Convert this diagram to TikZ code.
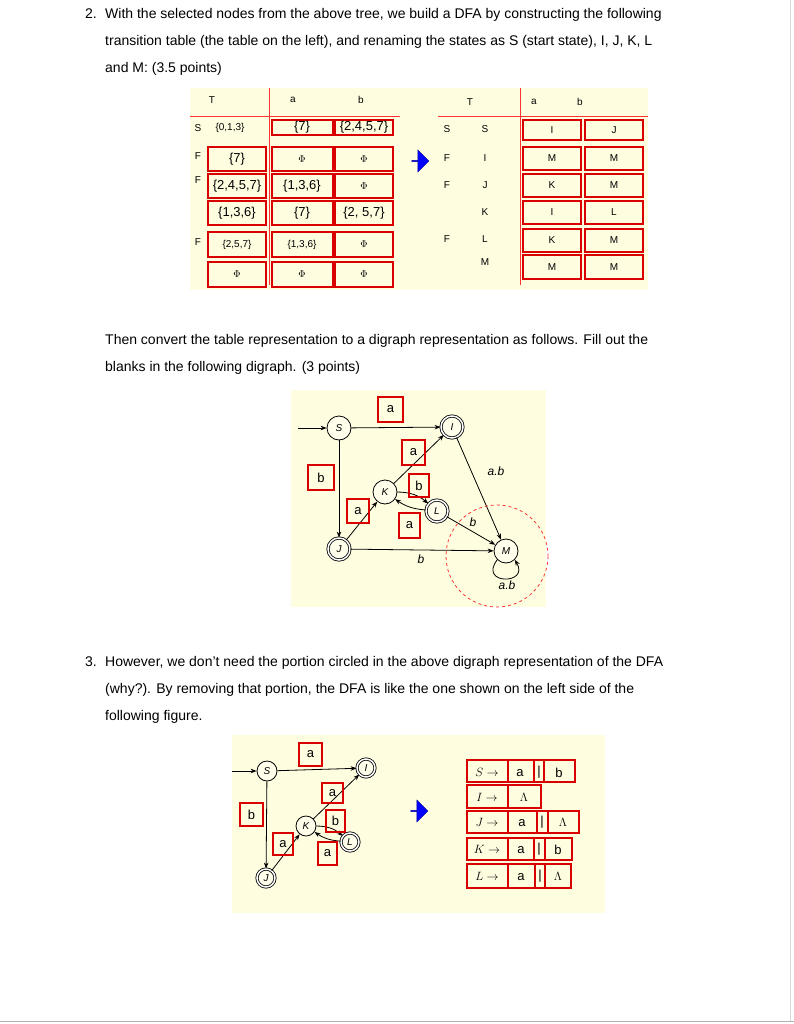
\documentclass[tikz,border=0pt]{standalone}
\usepackage{fontspec}
\setmainfont{Liberation Sans}
\usetikzlibrary{arrows.meta,shapes.arrows}
\newcommand{\smphi}{{\fontsize{10}{10}\selectfont$\Phi$}}
\begin{document}
\begin{tikzpicture}[x=1pt,y=-1pt,
 txt/.style={anchor=base west,inner sep=0,font=\fontsize{14}{16}\selectfont},
 rb/.style={draw=red!85!black,line width=1.6pt},
 st/.style={circle,draw,thick,minimum size=#1,inner sep=0,font=\itshape\fontsize{10}{10}\selectfont,fill=yellow!8},
 fin/.style={st=#1,double,double distance=1.5pt},
 ed/.style={-{Stealth[length=6pt]},thick},
 lb/.style={font=\fontsize{13}{13}\selectfont,inner sep=0},
 sm/.style={font=\fontsize{10}{10}\selectfont,inner sep=0},
 bl/.style={single arrow,fill=blue,draw=blue!60!black,minimum height=17pt,minimum width=22pt,single arrow head extend=3pt,inner sep=0}]
\useasboundingbox (0,0) rectangle (794,1024);
\fill[white] (0,0) rectangle (794,1024);
\draw[gray!60,line width=1pt] (0,1021)--(794,1021);
\draw[gray!30] (790,0)--(790,1021);
% text
\node[txt] (n2) at (85,19) {2.};
\node[txt] (l1) at (105,19) {With the selected nodes from the above tree, we build a DFA by constructing the following};
\node[txt] (l2) at (105,46) {transition table (the table on the left), and renaming the states as S (start state), I, J, K, L};
\node[txt] (l3) at (105,73) {and M: (3.5 points)};
\node[txt] (l4) at (105,344) {Then convert the table representation to a digraph representation as follows. Fill out the};
\node[txt] (l5) at (105,371) {blanks in the following digraph. (3 points)};
\node[txt] (n3) at (85,666) {3.};
\node[txt] (l6) at (105,666) {However, we don't need the portion circled in the above digraph representation of the DFA};
\node[txt] (l7) at (105,693) {(why?). By removing that portion, the DFA is like the one shown on the left side of the};
\node[txt] (l8) at (105,720) {following figure.};
% table background
\fill[yellow!12] (190,88) rectangle (648,290);
\draw[red!80,thick] (190,116)--(400,116) (269,88)--(269,285) (438,116)--(648,116) (520,88)--(520,285);
\node[sm] (tT) at (212,100) {T}; \node[sm] (ta) at (293,100) {a}; \node[sm] (tb) at (361,100) {b};
\node[sm] (uT) at (470,102) {T}; \node[sm] (ua) at (534,102) {a}; \node[sm] (ub) at (580,102) {b};
\foreach \y/\lx in {128/S,156/F,180/F,242/F}{\node[sm] at (198,\y) {\lx};}
\node[sm] (s013) at (230,128) {\{0,1,3\}};
% left table boxes
\foreach \ya/\yb/\tx in {147/171/{\{7\}},174/198/{\{2,4,5,7\}},201/225/{\{1,3,6\}},232/257/{\fontsize{10}{10}\selectfont\{2,5,7\}},262/287/{\smphi}}
 {\draw[rb] (208,\ya) rectangle (266,\yb); \node[lb] at (237,{(\ya+\yb)/2}) {\tx};}
\foreach \ya/\yb/\tx/\ux in {120/135/{\{7\}}/{\{2,4,5,7\}},147/171/{\smphi}/{\smphi},174/198/{\{1,3,6\}}/{\smphi},201/225/{\{7\}}/{\{2, 5,7\}},232/257/{\fontsize{10}{10}\selectfont\{1,3,6\}}/{\smphi},262/287/{\smphi}/{\smphi}}
 {\draw[rb] (272,\ya) rectangle (333,\yb); \node[lb] at (302,{(\ya+\yb)/2}) {\tx};
  \draw[rb] (335,\ya) rectangle (393,\yb); \node[lb] at (364,{(\ya+\yb)/2}) {\ux};}
\node[bl] (arr1) at (420,161) {};
% right table
\foreach \y/\lx in {129/S,158/F,185/F,239/F}{\node[sm] at (447,\y) {\lx};}
\foreach \y/\lx in {129/S,158/I,185/J,212/K,239/L,262/M}{\node[sm] at (485,\y) {\lx};}
\foreach \ya/\yb/\tx/\ux in {120/140/I/J,147/170/M/M,174/197/K/M,201/224/I/L,229/252/K/M,255/279/M/M}
 {\draw[rb] (523,\ya) rectangle (581,\yb); \node[sm] at (552,{(\ya+\yb)/2}) {\tx};
  \draw[rb] (585,\ya) rectangle (643,\yb); \node[sm] at (614,{(\ya+\yb)/2}) {\ux};}
% digraph 1
\fill[yellow!12] (291,390) rectangle (546,607);
\node[st=24pt] (S) at (339,428) {S};
\node[fin=22pt] (I) at (452,427) {I};
\node[st=24pt] (K) at (385,492) {K};
\node[fin=22pt] (L) at (437,511) {L};
\node[fin=22pt] (J) at (339,549) {J};
\node[st=24pt] (M) at (506,551) {M};
\coordinate (in1) at (298,428);
\draw[ed] (in1)--(S);
\draw[ed] (S)--(I); \draw[ed] (S)--(J); \draw[ed] (J)--(K); \draw[ed] (K)--(I);
\draw[ed] (K) to[bend left=20] (L); \draw[ed] (L) to[bend left=15] (K);
\draw[ed] (L)--(M); \draw[ed] (J)--(M); \draw[ed] (I)--(M);
\draw[ed] (M.south west) .. controls (478,585) and (530,585) .. (M.south east);
\draw[red!80,dashed,thick] (497,556) circle (51);
\foreach \xa/\ya/\xb/\yb/\tx in {378/397/403/422/a,402/440/425/465/a,308/465/334/490/b,409/474/429/497/b,347/499/369/523/a,399/513/420/538/a}
 {\draw[rb] (\xa,\ya) rectangle (\xb,\yb); \node[lb] at ({(\xa+\xb)/2},{(\ya+\yb)/2}) {\tx};}
\node[lb,font=\itshape\fontsize{12}{12}\selectfont] (ab1) at (496,471) {a.b};
\node[lb,font=\itshape\fontsize{12}{12}\selectfont] (b1) at (473,522) {b};
\node[lb,font=\itshape\fontsize{12}{12}\selectfont] (b2) at (421,559) {b};
\node[lb,font=\itshape\fontsize{12}{12}\selectfont] (ab2) at (507,585) {a.b};
% digraph 2
\fill[yellow!12] (232,735) rectangle (605,913);
\node[st=20pt] (S2) at (267,771) {S};
\node[fin=18pt] (I2) at (366,768) {I};
\node[st=20pt] (K2) at (306,826) {K};
\node[fin=18pt] (L2) at (350,842) {L};
\node[fin=18pt] (J2) at (266,878) {J};
\coordinate (in2) at (232,771);
\draw[ed] (in2)--(S2);
\draw[ed] (S2)--(I2); \draw[ed] (S2)--(J2); \draw[ed] (J2)--(K2); \draw[ed] (K2)--(I2);
\draw[ed] (K2) to[bend left=20] (L2); \draw[ed] (L2) to[bend left=15] (K2);
\foreach \xa/\ya/\xb/\yb/\tx in {299/743/322/766/a,240/803/263/826/b,322/783/343/803/a,326/810/345/832/b,273/833/293/855/a,318/842/337/865/a}
 {\draw[rb] (\xa,\ya) rectangle (\xb,\yb); \node[lb] at ({(\xa+\xb)/2},{(\ya+\yb)/2}) {\tx};}
\node[bl] (arr2) at (419,811) {};
% grammar
\foreach \ya/\yb/\xs in {760/782/{467,508,534,544,575},785/808/{467,508,541},811/833/{467,508,537,548,579},838/860/{467,508,534,545,572},864/888/{467,508,535,545,571}}{
 \foreach \xa in \xs { \xdef\xlast{\xa} }
 \draw[rb] (467,\ya) rectangle (\xlast,\yb);
 \foreach \xa in \xs { \draw[rb] (\xa,\ya)--(\xa,\yb); }
}
\foreach \x/\y/\tx in {487/772/{$S\rightarrow$},520/773/a,539/772/|,559/773/b,487/797/{$I\rightarrow$},524/797/{$\Lambda$},487/822/{$J\rightarrow$},522/823/a,542/822/|,563/822/{$\Lambda$},487/849/{$K\rightarrow$},521/850/a,539/849/|,558/850/b,487/876/{$L\rightarrow$},521/877/a,540/876/|,558/876/{$\Lambda$}}
 {\node[lb] at (\x,\y) {\tx};}
\end{tikzpicture}
\end{document}
